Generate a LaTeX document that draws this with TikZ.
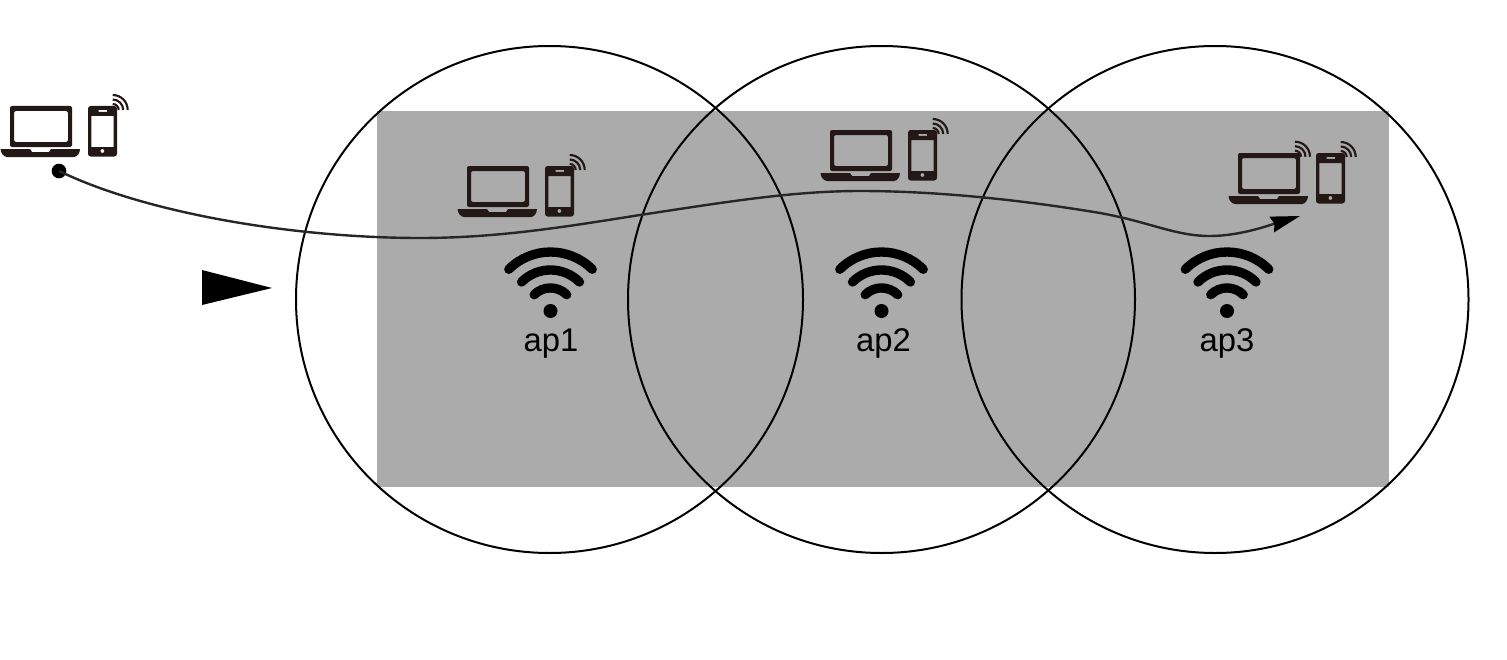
\documentclass[tikz,border=0pt]{standalone}
\usepackage{fontspec}
\setmainfont{Liberation Sans}
\usetikzlibrary{arrows.meta}
\definecolor{icondark}{HTML}{231815}
\definecolor{areagray}{HTML}{ABABAB}
\tikzset{
  cell/.style={circle,draw=black,line width=1.5pt,minimum size=380.25pt,inner sep=0pt,fill=none},
  aplabel/.style={font=\fontsize{24.6}{28}\selectfont,text=black,inner sep=0pt},
  track/.style={draw=black!85,line width=1.8pt,-{Stealth[length=22pt,width=12pt,inset=2pt,color=black]}},
  waves/.style={icondark,line width=1.6pt},
  wifiarc/.style={black,line width=7pt,line cap=round},
  pics/signal/.style={code={
    \draw[waves] (6,0) arc[start angle=0,end angle=90,radius=4.5pt];
    \draw[waves] (10.5,0) arc[start angle=0,end angle=90,radius=7.875pt];
    \draw[waves] (15,0) arc[start angle=0,end angle=90,radius=11.25pt];
  }},
  pics/device/.style={code={
    \fill[icondark,even odd rule,rounded corners=1.5pt]
      (10,0) rectangle (72,41) (14,5) rectangle (68,36);
    \fill[icondark] (0.5,43) -- (30,43) -- (32,46) -- (49,46) -- (51,43) -- (80,43)
      .. controls (80,47) and (77,51) .. (74,51) -- (7,51) .. controls (4,51) and (0.5,47) .. (0.5,43) -- cycle;
    \fill[icondark,even odd rule]
      [rounded corners=2pt] (88,0) rectangle (117,50.5)
      [rounded corners=0pt] (91.4,10) rectangle (113.5,41)
      (98.5,3.8) rectangle (107,5.8)
      (102.4,45) circle[radius=1.5pt];
    \pic at (112.7,4) {signal};
  }},
  pics/wifi/.style={code={
    \fill[black] (0,0) circle[radius=5.25pt];
    \draw[wifiarc] (-16.3,-16.3) arc[start angle=135,end angle=45,radius=17.25pt];
    \draw[wifiarc] (-29,-29) arc[start angle=135,end angle=45,radius=30.75pt];
    \draw[wifiarc] (-41.7,-41.7) arc[start angle=135,end angle=45,radius=44.25pt];
  }}
}
\begin{document}
\begin{tikzpicture}[x=0.75pt,y=-0.75pt]
\useasboundingbox (0,0) rectangle (1507,660);
\node[fill=areagray,inner sep=0pt,minimum width=759pt,minimum height=282pt] (area) at (883,299) {};
\node[cell] (c1) at (549.5,299.5) {};
\node[cell] (c2) at (881.5,299.5) {};
\node[cell] (c3) at (1215,299.5) {};
\pic at (0,106) {device};
\pic at (457,166) {device};
\pic at (820,130) {device};
\pic at (1228,153) {device};
\pic at (1295,156.7) {signal};
\pic at (550.5,311) {wifi};
\pic at (881.5,311) {wifi};
\pic at (1227,311) {wifi};
\node[aplabel] (ap1) at (551,343.5) {ap1};
\node[aplabel] (ap2) at (883.5,343.5) {ap2};
\node[aplabel] (ap3) at (1227,343.5) {ap3};
\fill[black] (202,270) -- (272,288) -- (202,305) -- cycle;
\node[circle,fill=black,inner sep=0pt,minimum size=11pt] (start) at (59,171) {};
\coordinate (finish) at (1300,216);
\draw[track] (start.center) .. controls (150,215) and (300,238) .. (420,238)
  .. controls (500,238) and (570,226) .. (640,215)
  .. controls (720,203) and (790,191) .. (860,191)
  .. controls (950,191) and (1040,203) .. (1100,213)
  .. controls (1150,222) and (1175,236) .. (1210,236)
  .. controls (1240,236) and (1270,225) .. (finish);
\end{tikzpicture}
\end{document}
